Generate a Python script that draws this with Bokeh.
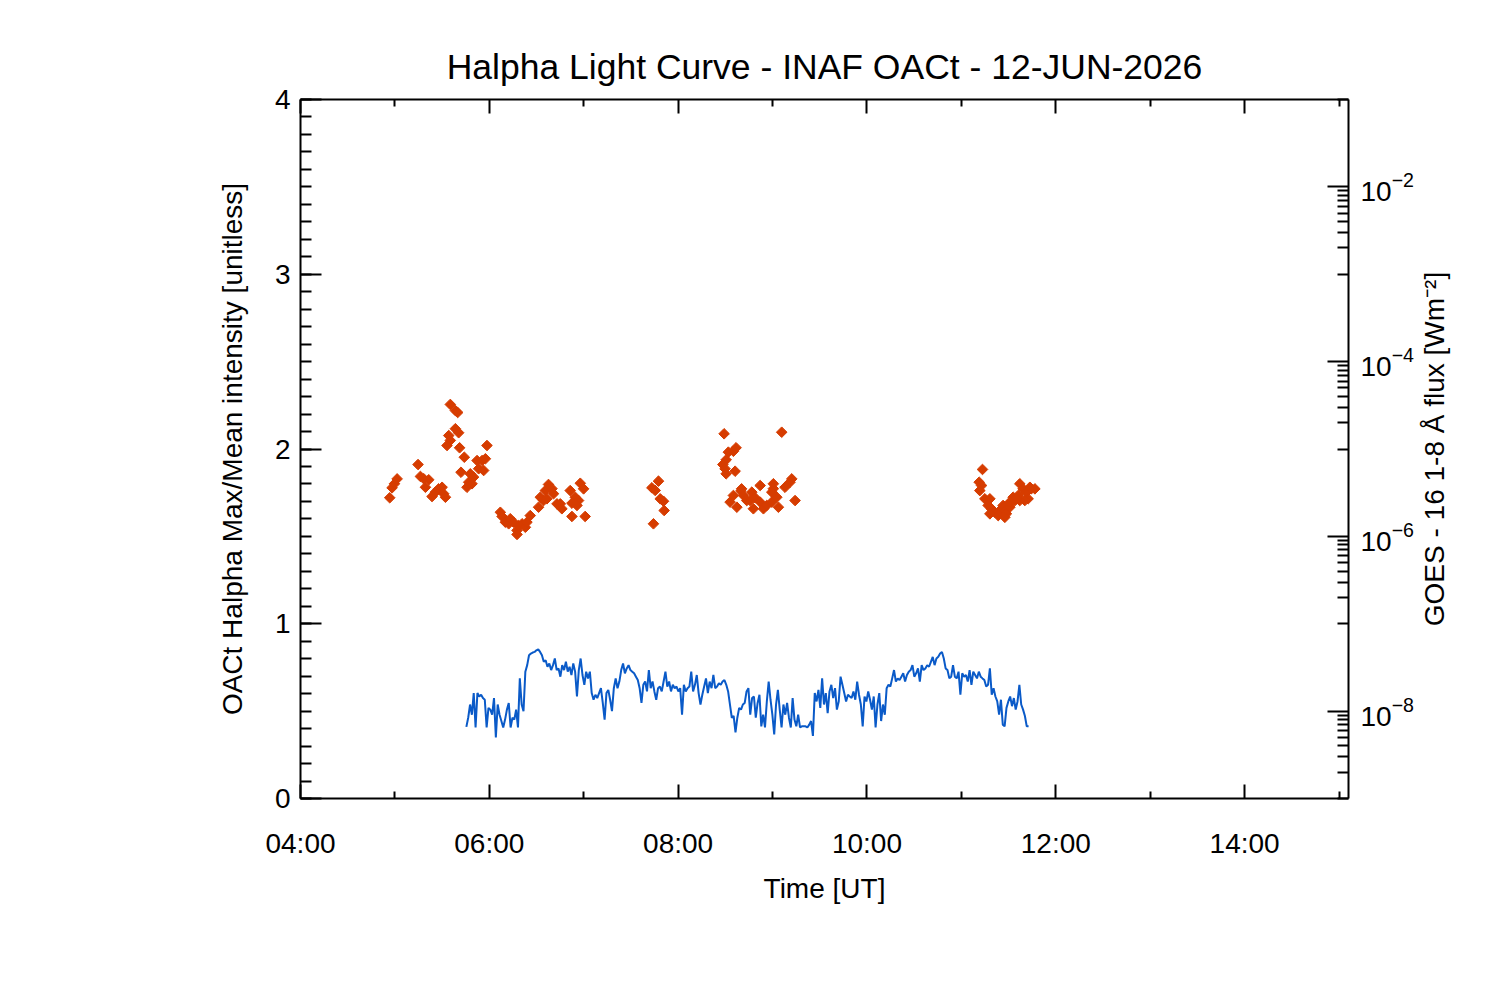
from math import pi

import numpy as np
from bokeh.embed import file_html
from bokeh.layouts import row
from bokeh.models import (CustomLabelingPolicy, FixedTicker, LinearAxis,
                          LogAxis, LogScale, Range1d)
from bokeh.plotting import figure
from bokeh.resources import INLINE

FONT = "Liberation Sans"

title = "Halpha Light Curve - INAF OACt - 12-JUN-2026"
x_label = "Time [UT]"
y_label = "OACt Halpha Max/Mean intensity [unitless]"
y2_label = "GOES - 16 1-8 Å flux [Wm⁻²]"

hour_ticks = [4, 6, 8, 10, 12, 14]
hour_labels = ["04:00", "06:00", "08:00", "10:00", "12:00", "14:00"]

# OACt Halpha max/mean ratio, time in minutes UT
ha_minutes = [
    296.7, 298.2, 299.7, 301.4,
    314.7, 316.2, 318.3, 321.5, 319.4, 323.6, 325.7, 327.8, 330.0, 331.0, 332.1,
    335.2, 338.4, 339.9, 338.4, 340.5, 334.2, 335.2, 333.1, 341.1, 344.1, 342.0,
    358.5, 352.2, 355.4, 357.5, 353.2, 356.4, 347.9, 350.0, 346.9, 349.0, 345.8,
    367.0, 368.1, 370.2, 372.3, 373.3, 375.4, 377.6, 378.6, 380.8, 382.9, 383.9,
    386.0, 377.6,
    391.3, 392.4, 395.6, 397.6, 399.8, 394.5, 396.6, 400.8, 403.0, 406.1, 405.1,
    411.4, 414.6, 417.8, 419.9, 416.7, 412.5, 415.7, 412.5, 420.9,
    467.5, 463.3, 465.4, 468.6, 470.7, 471.1, 464.3,
    509.2, 545.8, 511.9, 515.1, 516.8, 510.5, 508.4, 509.8, 510.5, 516.2, 532.1,
    540.5, 540.5, 539.5, 552.2, 551.1, 547.9, 520.3, 519.9, 515.1, 521.5, 526.8,
    528.9, 513.0, 517.3, 523.6, 525.7, 527.8, 532.1, 534.2, 536.3, 539.5, 542.7,
    543.7, 554.3,
    673.4, 671.3, 672.8, 671.7, 674.9, 678.1, 677.0, 679.1, 681.3, 678.1, 684.4,
    683.4, 686.5, 687.6, 688.6, 690.8, 687.6, 692.9, 694.0, 696.1, 697.1, 699.2,
    701.4, 703.5, 704.4, 706.7, 702.4, 700.3, 697.1, 695.0, 690.8,
]
ha_ratio = [
    1.721, 1.778, 1.801, 1.829,
    1.911, 1.843, 1.830, 1.824, 1.781, 1.728, 1.753, 1.772, 1.781, 1.744, 1.724,
    2.255, 2.220, 2.209, 2.116, 2.093, 2.077, 2.049, 2.020, 2.007, 1.953, 1.867,
    2.020, 1.934, 1.934, 1.944, 1.887, 1.877, 1.858, 1.839, 1.810, 1.801, 1.781,
    1.638, 1.614, 1.581, 1.572, 1.601, 1.581, 1.534, 1.562, 1.572, 1.552, 1.581,
    1.619, 1.511,
    1.667, 1.724, 1.762, 1.797, 1.773, 1.705, 1.715, 1.744, 1.686, 1.658, 1.686,
    1.762, 1.724, 1.804, 1.772, 1.705, 1.690, 1.677, 1.614, 1.614,
    1.816, 1.778, 1.763, 1.715, 1.701, 1.648, 1.572,
    2.087, 2.096, 1.982, 1.987, 2.007, 1.938, 1.911, 1.887, 1.858, 1.873, 1.791,
    1.801, 1.773, 1.753, 1.829, 1.810, 1.781, 1.772, 1.759, 1.734, 1.734, 1.753,
    1.721, 1.696, 1.667, 1.705, 1.705, 1.658, 1.696, 1.658, 1.677, 1.696, 1.724,
    1.667, 1.705,
    1.883, 1.810, 1.791, 1.762, 1.715, 1.715, 1.677, 1.658, 1.638, 1.629, 1.648,
    1.619, 1.677, 1.648, 1.629, 1.667, 1.609, 1.724, 1.705, 1.734, 1.801, 1.772,
    1.753, 1.781, 1.772, 1.772, 1.715, 1.705, 1.705, 1.715, 1.696,
]

# GOES-16 1-8 A flux in units of 1e-8 W m^-2, regular cadence
goes_start = "05:45:24"
goes_end = "11:42:42"
goes_flux_e8 = [
    0.66, 0.84, 1.19, 0.91, 1.61, 0.65, 1.61, 1.47, 1.54, 1.41,
    1.35, 0.65, 1.09, 1.04, 0.91, 1.41, 0.50, 1.19, 0.91, 0.77,
    0.65, 0.80, 1.04, 1.24, 0.65, 0.84, 0.80, 1.04, 0.65, 2.37,
    1.19, 1.00, 2.83, 3.36, 4.36, 4.56, 4.68, 4.76, 4.97, 5.10,
    4.76, 4.36, 3.67, 3.83, 3.22, 3.51, 2.95, 3.36, 4.00, 2.95,
    3.08, 2.48, 3.36, 2.95, 3.67, 2.83, 3.22, 2.59, 3.51, 2.83,
    1.47, 2.95, 4.00, 2.59, 2.00, 2.83, 2.37, 2.83, 1.61, 1.35,
    1.54, 1.41, 1.61, 1.83, 1.24, 0.80, 1.61, 1.75, 1.35, 1.00,
    1.83, 2.37, 1.83, 2.18, 2.95, 3.51, 2.71, 3.08, 3.36, 2.95,
    2.83, 2.71, 2.48, 2.27, 1.83, 1.24, 2.00, 2.18, 1.68, 2.95,
    1.83, 2.18, 1.68, 1.35, 1.83, 1.91, 1.68, 2.18, 2.83, 1.91,
    2.18, 1.68, 2.00, 1.83, 1.91, 1.68, 1.83, 0.91, 2.00, 1.68,
    1.83, 1.91, 2.83, 1.68, 2.00, 2.59, 1.61, 1.19, 1.54, 1.91,
    2.37, 1.61, 2.18, 1.83, 2.59, 1.83, 1.91, 2.08, 2.00, 2.18,
    2.27, 2.00, 1.68, 1.19, 0.84, 0.88, 0.57, 0.84, 1.09, 1.04,
    1.19, 1.24, 1.68, 1.83, 0.91, 1.41, 1.47, 0.84, 1.24, 1.54,
    0.67, 0.91, 0.65, 1.29, 2.18, 1.35, 0.91, 0.54, 1.19, 1.75,
    1.04, 0.65, 1.19, 0.91, 1.24, 0.84, 0.65, 1.41, 0.80, 0.67,
    0.91, 0.65, 0.67, 0.67, 0.67, 0.65, 0.70, 0.77, 0.52, 1.61,
    1.29, 1.75, 1.09, 2.37, 1.19, 1.61, 0.95, 1.68, 2.00, 1.41,
    1.83, 1.04, 1.29, 2.48, 2.00, 1.61, 1.29, 1.54, 1.47, 1.41,
    1.68, 1.35, 2.18, 1.54, 1.19, 0.67, 1.47, 1.29, 1.68, 1.35,
    1.04, 1.47, 0.65, 1.19, 1.61, 0.77, 1.19, 0.91, 1.83, 2.00,
    1.91, 2.37, 2.95, 2.18, 2.37, 2.27, 2.48, 2.71, 2.18, 2.59,
    2.83, 2.95, 3.36, 2.48, 2.71, 3.08, 2.18, 3.36, 2.95, 3.08,
    3.36, 3.22, 3.67, 4.18, 3.36, 4.00, 4.18, 4.56, 4.76, 4.00,
    3.08, 2.95, 2.37, 2.48, 3.36, 2.48, 2.37, 2.83, 1.54, 2.71,
    2.48, 2.59, 2.18, 2.95, 2.00, 2.83, 2.59, 2.37, 2.83, 2.48,
    2.37, 2.27, 1.91, 2.00, 3.08, 1.54, 1.83, 1.47, 1.29, 0.91,
    1.35, 0.70, 0.67, 1.09, 1.29, 1.47, 1.14, 1.41, 1.04, 1.29,
    2.00, 1.19, 1.04, 0.88, 0.67, 0.67,
]


def to_hours(s):
    h, m, sec = (int(v) for v in s.split(":"))
    return h + m / 60 + sec / 3600


ha_x = [m / 60 for m in ha_minutes]
goes_x = np.linspace(to_hours(goes_start), to_hours(goes_end), len(goes_flux_e8))
goes_y = [v * 1e-8 for v in goes_flux_e8]

p = figure(
    width=1416, height=984,
    x_range=Range1d(4, 15.1), y_range=Range1d(0, 4),
    output_backend="svg", toolbar_location=None,
    min_border_left=300, min_border_right=67,
    min_border_top=99, min_border_bottom=186,
    title=title,
)
p.extra_y_ranges = {"goes": Range1d(1e-9, 1e-1)}
p.extra_y_scales = {"goes": LogScale()}

p.outline_line_color = None
p.xgrid.visible = False
p.ygrid.visible = False
p.background_fill_color = "white"
p.border_fill_color = "white"

p.title.align = "center"
p.title.text_font = FONT
p.title.text_font_style = "normal"
p.title.text_font_size = "35.5px"
p.title.text_color = "black"
p.title.standoff = 25


def style(ax, major, minor):
    ax.axis_line_width = 2
    ax.axis_line_color = "black"
    ax.major_tick_line_width = 2
    ax.minor_tick_line_width = 2
    ax.major_tick_line_color = "black"
    ax.minor_tick_line_color = "black"
    ax.major_tick_in = major
    ax.major_tick_out = 0
    ax.minor_tick_in = minor
    ax.minor_tick_out = 0
    ax.major_label_text_font = FONT
    ax.major_label_text_font_size = "28px"
    ax.major_label_text_color = "black"
    ax.axis_label_text_font = FONT
    ax.axis_label_text_font_size = "28px"
    ax.axis_label_text_font_style = "normal"
    ax.axis_label_text_color = "black"


minor_hours = [h + 1 for h in hour_ticks]

xa = p.xaxis[0]
xa.ticker = FixedTicker(ticks=hour_ticks, minor_ticks=minor_hours)
xa.major_label_overrides = dict(zip(hour_ticks, hour_labels))
xa.axis_label = x_label
style(xa, 14, 7)
xa.major_label_standoff = 29
xa.axis_label_standoff = 11

# top axis: ticks only, no labels
top = LinearAxis(ticker=FixedTicker(ticks=hour_ticks, minor_ticks=minor_hours))
style(top, 14, 7)
top.major_label_text_font_size = "0px"
top.major_label_standoff = 0
top.major_label_policy = CustomLabelingPolicy(code="""
try { for (const i of Array.from(indices)) indices.unset(i) } catch (e) {}
return indices
""")
p.add_layout(top, "above")

ya = p.yaxis[0]
ya.ticker = FixedTicker(ticks=[0, 1, 2, 3, 4],
                        minor_ticks=[i / 10 for i in range(41)])
ya.axis_label = y_label
style(ya, 21, 11)
ya.major_label_standoff = 10
ya.axis_label_standoff = 24

goes_major = [1e-8, 1e-6, 1e-4, 1e-2]
goes_minor = [k * 10.0 ** e for e in (-9, -7, -5, -3, -1) for k in range(1, 10)]
ra = LogAxis(y_range_name="goes",
             ticker=FixedTicker(ticks=goes_major, minor_ticks=goes_minor))
style(ra, 21, 11)
ra.major_label_standoff = 12
p.add_layout(ra, "right")

p.line(goes_x, goes_y, y_range_name="goes", line_color="#0A5AC8", line_width=2)
p.scatter(ha_x, ha_ratio, marker="square", angle=pi / 4, size=7.5,
          fill_color="#D63C00", line_color="#D63C00")

# narrow strip on the right that carries the GOES axis title (reads upward)
p2 = figure(
    width=68, height=984, x_range=Range1d(0, 1), y_range=Range1d(0, 1),
    output_backend="svg", toolbar_location=None,
    x_axis_location=None, y_axis_location=None,
    min_border_left=0, min_border_right=0,
    min_border_top=99, min_border_bottom=186,
    title=y2_label, title_location="left",
)
p2.outline_line_color = None
p2.grid.visible = False
p2.background_fill_color = "white"
p2.border_fill_color = "white"
p2.title.align = "center"
p2.title.text_font = FONT
p2.title.text_font_style = "normal"
p2.title.text_font_size = "28px"
p2.title.text_color = "black"
p2.title.standoff = 0

layout = row(p, p2, spacing=0)

open("out.html", "w").write(file_html(layout, INLINE))
